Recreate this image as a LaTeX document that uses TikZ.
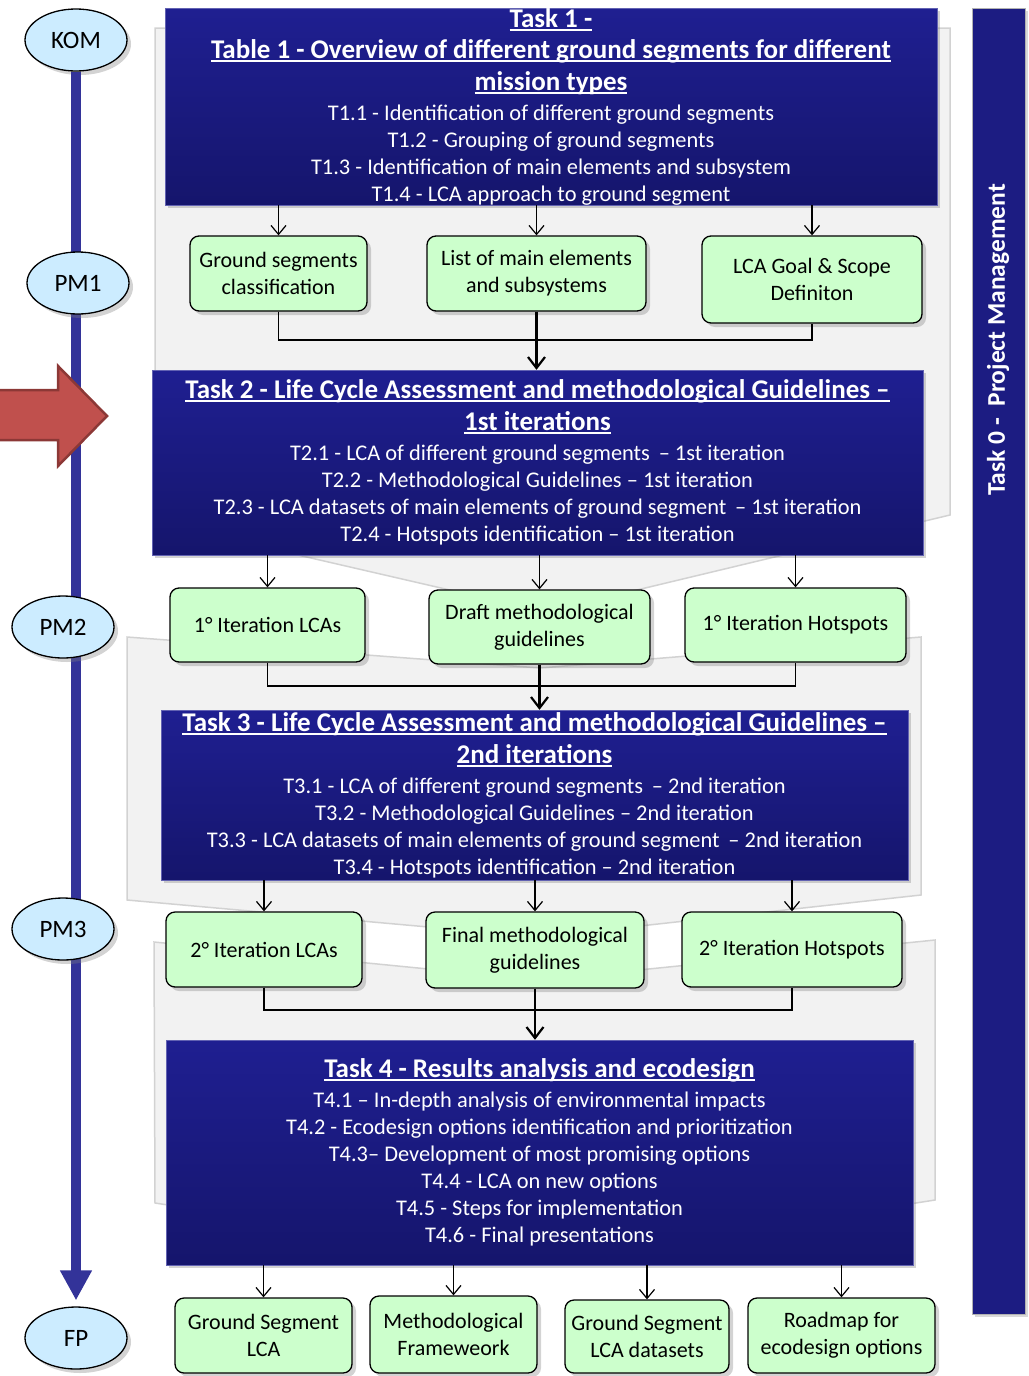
\documentclass[tikz,border=0pt]{standalone}
\usepackage{fontspec}
\setmainfont{Carlito}
\usepackage{tikz}
\usetikzlibrary{shapes.geometric, arrows.meta, shadows}
\definecolor{tasktop}{RGB}{31,31,145}
\definecolor{taskbot}{RGB}{21,21,108}
\definecolor{outgreen}{RGB}{204,255,204}
\definecolor{msblue}{RGB}{204,236,255}
\definecolor{lineblue}{RGB}{51,51,153}
\definecolor{redfill}{RGB}{192,80,77}
\definecolor{redline}{RGB}{140,56,54}
\definecolor{chevgray}{RGB}{242,242,242}
\newsavebox{\ttlbox}
\newcommand{\tasktitle}[1]{{\fontsize{27}{32}\selectfont\bfseries\sbox{\ttlbox}{#1}\rlap{\rule[-3.5pt]{\wd\ttlbox}{1.8pt}}\usebox{\ttlbox}}}
\tikzstyle{task} = [rectangle, inner sep=0pt, draw=tasktop!70!white, top color=tasktop, bottom color=taskbot, text=white, align=center, font=\fontsize{22.4}{27}\selectfont, drop shadow={shadow xshift=3pt, shadow yshift=-3pt, opacity=0.35}]
\tikzstyle{output} = [rectangle, rounded corners=9pt, inner sep=0pt, draw=black, line width=1.3pt, fill=outgreen, align=center, font=\fontsize{22}{27}\selectfont, drop shadow={shadow xshift=4pt, shadow yshift=-4pt, opacity=0.35}]
\tikzstyle{milestone} = [ellipse, draw=black, line width=1.3pt, fill=msblue, minimum width=102pt, minimum height=62pt, font=\fontsize{25}{28}\selectfont, drop shadow={shadow xshift=4pt, shadow yshift=-4pt, opacity=0.35}]
\tikzstyle{chevron} = [fill=chevgray, draw=gray!35, line width=1.5pt]
\tikzstyle{arrow} = [line width=1.2pt, ->, >={Straight Barb[length=9pt,width=15pt]}]
\tikzstyle{merge} = [line width=1.5pt]
\tikzstyle{bigarrow} = [line width=2.2pt, ->, >={Straight Barb[length=11pt,width=17pt]}]
\tikzstyle{timeline} = [line width=10pt, lineblue, -{Triangle[length=30pt,width=30pt]}]

\begin{document}
\begin{tikzpicture}[x=1pt, y=-1pt]
		\useasboundingbox (0,0) rectangle (1028,1376);
		% grey chevrons behind the tasks
		\draw [chevron] (155,28) -- (950,28) -- (950,515) -- (545,612) -- (155,522) -- cycle;
		\draw [chevron] (127,637) -- (540,668) -- (921,637) -- (921,895) -- (540,937) -- (127,900) -- cycle;
		\draw [chevron] (154,942) -- (540,980) -- (935,940) -- (935,1200) -- (540,1262) -- (155,1203) -- cycle;
		% milestones and timeline
		\node (kom) [milestone] at (76,40) {KOM};
		\node (fp) [milestone] at (76,1338) {FP};
		\draw [timeline] (kom.south) -- (fp.north) [shorten >=6pt];
		\node (pm1) [milestone] at (78,283) {PM1};
		\node (pm2) [milestone] at (63,627) {PM2};
		\node (pm3) [milestone] at (63,929) {PM3};
		\draw [fill=redfill, draw=redline, line width=2.5pt] (-5,390) -- (58,390) -- (58,366) -- (107,416) -- (58,466) -- (58,440) -- (-5,440) -- cycle;
		% tasks
		\node (t1) [task, minimum width=772pt, minimum height=197pt] at (551,106.5) {\tasktitle{Task 1 -}\\[4pt]
			\tasktitle{Table 1 - Overview of different ground segments for different}\\[5pt]
			\tasktitle{mission types}\\[3pt]
			T1.1 - Identification of different ground segments\\
			T1.2 - Grouping of ground segments\\
			T1.3 - Identification of main elements and subsystem\\
			T1.4 - LCA approach to ground segment};
		\node (t2) [task, minimum width=771pt, minimum height=185pt] at (537.5,462.5) {\tasktitle{Task 2 - Life Cycle Assessment and methodological Guidelines –}\\[5pt]
			\tasktitle{1st iterations}\\[3pt]
			T2.1 - LCA of different ground segments \,– 1st iteration\\
			T2.2 - Methodological Guidelines – 1st iteration\\
			T2.3 - LCA datasets of main elements of ground segment \,– 1st iteration\\
			T2.4 - Hotspots identification – 1st iteration};
		\node (t3) [task, minimum width=747pt, minimum height=170pt] at (534.5,795) {\tasktitle{Task 3 - Life Cycle Assessment and methodological Guidelines –}\\[5pt]
			\tasktitle{2nd iterations}\\[3pt]
			T3.1 - LCA of different ground segments \,– 2nd iteration\\
			T3.2 - Methodological Guidelines – 2nd iteration\\
			T3.3 - LCA datasets of main elements of ground segment \,– 2nd iteration\\
			T3.4 - Hotspots identification – 2nd iteration};
		\node (t4) [task, minimum width=747pt, minimum height=225pt] at (539.5,1152.5) {\tasktitle{Task 4 - Results analysis and ecodesign}\\[3pt]
			T4.1 – In-depth analysis of environmental impacts\\
			T4.2 - Ecodesign options identification and prioritization\\
			T4.3– Development of most promising options\\
			T4.4 - LCA on new options\\
			T4.5 - Steps for implementation\\
			T4.6 - Final presentations};
		% outputs
		\node (gsc) [output, minimum width=177pt, minimum height=75pt] at (278.5,273.5) {Ground segments\\classification};
		\node (lme) [output, minimum width=219pt, minimum height=75pt] at (536.5,273.5) {List of main elements\\and subsystems};
		\node (lcag) [output, minimum width=220pt, minimum height=87pt] at (812,279.5) {LCA Goal \& Scope\\Definiton};
		\node (itlca1) [output, minimum width=195pt, minimum height=74pt] at (267.5,625) {1° Iteration LCAs};
		\node (draft) [output, minimum width=221pt, minimum height=74pt] at (539.5,627) {Draft methodological\\guidelines};
		\node (ithot1) [output, minimum width=221pt, minimum height=74pt] at (795.5,625) {1° Iteration Hotspots};
		\node (itlca2) [output, minimum width=196pt, minimum height=75pt] at (264,949.5) {2° Iteration LCAs};
		\node (final) [output, minimum width=218pt, minimum height=76pt] at (535,950) {Final methodological\\guidelines};
		\node (ithot2) [output, minimum width=220pt, minimum height=75pt] at (792,949.5) {2° Iteration Hotspots};
		\node (gslca) [output, minimum width=177pt, minimum height=75pt] at (263.5,1335.5) {Ground Segment\\LCA};
		\node (mfw) [output, minimum width=167pt, minimum height=77pt] at (453.5,1334.5) {Methodological\\Frameweork};
		\node (gsdata) [output, minimum width=164pt, minimum height=73pt] at (647,1336.5) {Ground Segment\\LCA datasets};
		\node (road) [output, minimum width=187pt, minimum height=75pt] at (841.5,1335.5) {Roadmap for\\ecodesign options};
		% task 0 bar
		\node (t0bar) [rectangle, draw=gray!60, fill=tasktop!90!black, minimum width=53pt, minimum height=1306pt, drop shadow={shadow xshift=3pt, shadow yshift=-3pt, opacity=0.3}] at (998.5,661) {};
		\node (t0) [rotate=90, text=white, font=\fontsize{25.5}{28}\selectfont\bfseries] at (998,340) {Task 0 - \ Project Management};
		% connectors
		\draw [arrow] (t1.south -| gsc) -- (gsc.north);
		\draw [arrow] (t1.south -| lme) -- (lme.north);
		\draw [arrow] (t1.south -| lcag) -- (lcag.north);
		\coordinate (m1) at (537,340);
		\draw [merge] (gsc.south) |- (m1) -| (lcag.south);
		\draw [bigarrow] (lme.south) -- (lme.south |- t2.north);
		\draw [arrow] (t2.south -| itlca1) -- (itlca1.north);
		\draw [arrow] (t2.south -| draft) -- (draft.north);
		\draw [arrow] (t2.south -| ithot1) -- (ithot1.north);
		\coordinate (m2) at (539.5,686);
		\draw [merge] (itlca1.south) |- (m2) -| (ithot1.south);
		\draw [bigarrow] (draft.south) -- (draft.south |- t3.north);
		\draw [arrow] (t3.south -| itlca2) -- (itlca2.north);
		\draw [arrow] (t3.south -| final) -- (final.north);
		\draw [arrow] (t3.south -| ithot2) -- (ithot2.north);
		\coordinate (m3) at (535,1010);
		\draw [merge] (itlca2.south) |- (m3) -| (ithot2.south);
		\draw [bigarrow] (final.south) -- (final.south |- t4.north);
		\draw [arrow] (t4.south -| gslca) -- (gslca.north);
		\draw [arrow] (t4.south -| mfw) -- (mfw.north);
		\draw [arrow] (t4.south -| gsdata) -- (gsdata.north);
		\draw [arrow] (t4.south -| road) -- (road.north);
\end{tikzpicture}
\end{document}
